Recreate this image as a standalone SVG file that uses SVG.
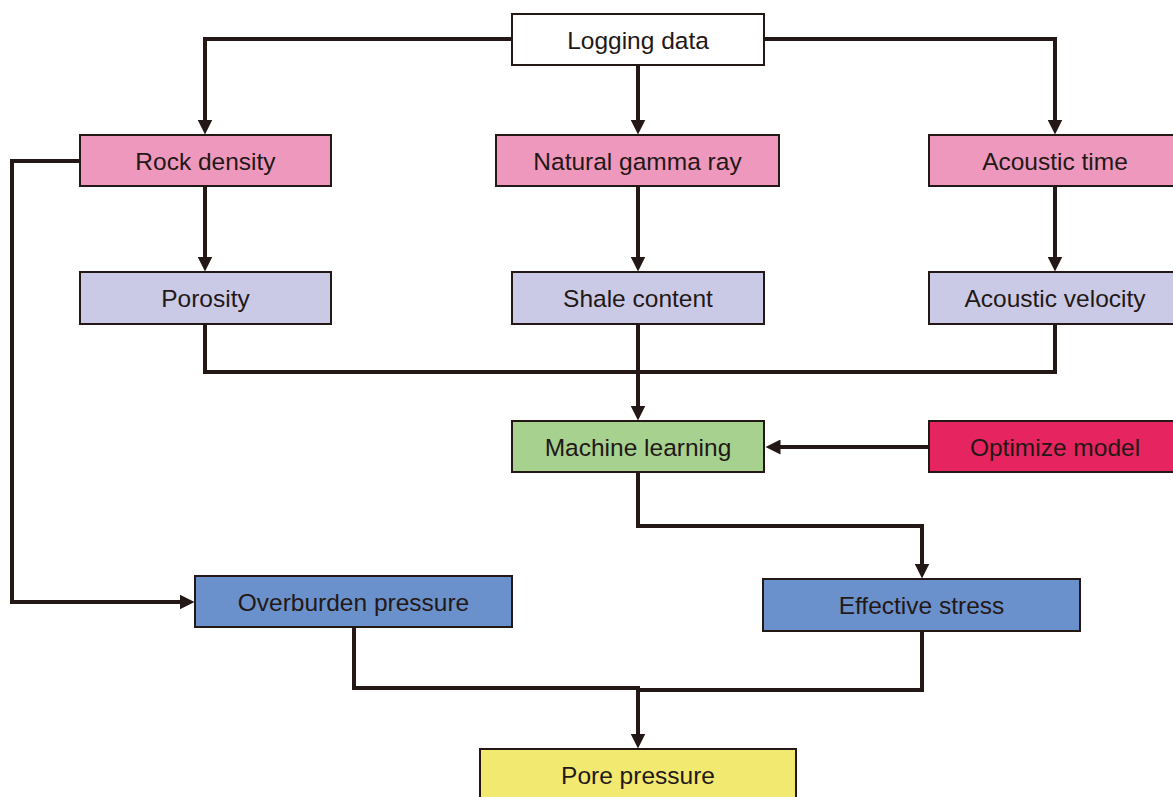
<svg xmlns="http://www.w3.org/2000/svg" width="1173" height="797" viewBox="0 0 1173 797">
<style>
.box{stroke:#231815;stroke-width:2}
.t{font-family:"Liberation Sans",Arial,sans-serif;font-size:24.5px;fill:#231815;text-anchor:middle}
.c{fill:none;stroke:#231815;stroke-width:4}
.pink{fill:#EE98BE}
.lav{fill:#CACAE7}
.green{fill:#A6D18F}
.red{fill:#E6245F}
.blue{fill:#6A91CB}
.yellow{fill:#F2E971}
</style>
<defs>
<marker id="ah" markerUnits="userSpaceOnUse" markerWidth="16" markerHeight="15" refX="0.5" refY="7.5" orient="auto">
<path d="M0,0 L15,7.5 L0,15 z" fill="#231815"/>
</marker>
</defs>
<rect width="1173" height="797" fill="#ffffff"/>
<g id="connectors">
<path class="c" d="M512,39 H205 V120" marker-end="url(#ah)"/>
<path class="c" d="M638,65 V120" marker-end="url(#ah)"/>
<path class="c" d="M764,39 H1055 V120" marker-end="url(#ah)"/>
<path class="c" d="M205,186 V257" marker-end="url(#ah)"/>
<path class="c" d="M638,186 V257" marker-end="url(#ah)"/>
<path class="c" d="M1055,186 V257" marker-end="url(#ah)"/>
<path class="c" d="M205,324 V372 H1055 V324"/>
<path class="c" d="M638,324 V406" marker-end="url(#ah)"/>
<path class="c" d="M929,447 H780" marker-end="url(#ah)"/>
<path class="c" d="M638,472 V526 H922 V564" marker-end="url(#ah)"/>
<path class="c" d="M80,161 H12 V602 H180" marker-end="url(#ah)"/>
<path class="c" d="M354,627 V688 H640"/>
<path class="c" d="M922,631 V690 H636"/>
<path class="c" d="M638,688 V734" marker-end="url(#ah)"/>
</g>
<g id="logging-data"><rect class="box" x="512" y="14" width="252" height="51" fill="#ffffff"/><text class="t" x="638" y="48.5">Logging data</text></g>
<g id="rock-density"><rect class="box pink" x="80" y="135" width="251" height="51"/><text class="t" x="205.5" y="169.5">Rock density</text></g>
<g id="natural-gamma-ray"><rect class="box pink" x="496" y="135" width="283" height="51"/><text class="t" x="637.5" y="169.5">Natural gamma ray</text></g>
<g id="acoustic-time"><rect class="box pink" x="929" y="135" width="250" height="51"/><text class="t" x="1055" y="169.5">Acoustic time</text></g>
<g id="porosity"><rect class="box lav" x="80" y="272" width="251" height="52"/><text class="t" x="205.5" y="306.5">Porosity</text></g>
<g id="shale-content"><rect class="box lav" x="512" y="272" width="252" height="52"/><text class="t" x="638" y="306.5">Shale content</text></g>
<g id="acoustic-velocity"><rect class="box lav" x="929" y="272" width="250" height="52"/><text class="t" x="1055" y="306.5">Acoustic velocity</text></g>
<g id="machine-learning"><rect class="box green" x="512" y="421" width="252" height="51"/><text class="t" x="638" y="455.5">Machine learning</text></g>
<g id="optimize-model"><rect class="box red" x="929" y="421" width="250" height="51"/><text class="t" x="1055" y="455.5">Optimize model</text></g>
<g id="overburden-pressure"><rect class="box blue" x="195" y="576" width="317" height="51"/><text class="t" x="353.5" y="610.5">Overburden pressure</text></g>
<g id="effective-stress"><rect class="box blue" x="763" y="579" width="317" height="52"/><text class="t" x="921.5" y="613.5">Effective stress</text></g>
<g id="pore-pressure"><rect class="box yellow" x="480" y="749" width="316" height="60"/><text class="t" x="638" y="783.5">Pore pressure</text></g>
</svg>
